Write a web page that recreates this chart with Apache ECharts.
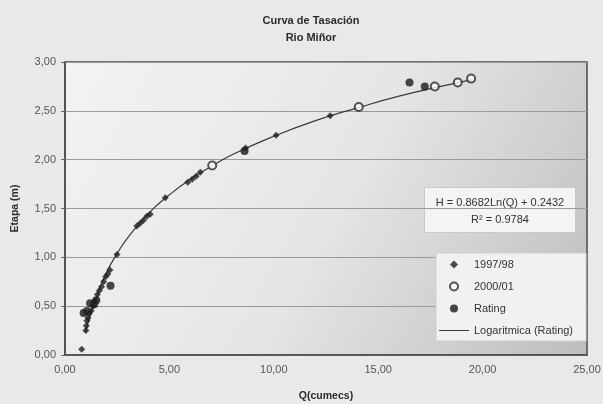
<!DOCTYPE html>
<html>
<head>
<meta charset="utf-8">
<script src="https://cdn.jsdelivr.net/npm/echarts@6/dist/echarts.min.js"></script>
<style>
html,body{margin:0;padding:0;background:#e9e9e7;}
#c{width:603px;height:404px;}
</style>
</head>
<body>
<div id="c"></div>
<script>
// ---- data ----
var series9798 = [[0.80,0.06],[1.00,0.25],[1.02,0.30],[1.05,0.35],[1.10,0.38],[1.15,0.42],[1.25,0.45],[1.35,0.50],[1.45,0.56],[1.55,0.62],[1.65,0.66],[1.75,0.70],[1.85,0.75],[1.95,0.80],[2.05,0.83],[2.15,0.87],[2.49,1.03],[3.44,1.32],[3.60,1.35],[3.76,1.38],[3.92,1.42],[4.08,1.44],[4.80,1.61],[5.88,1.77],[6.09,1.80],[6.28,1.83],[6.48,1.87],[8.65,2.12],[10.11,2.25],[12.70,2.45]];
var series0001 = [[7.05,1.94],[14.07,2.54],[17.71,2.75],[18.81,2.79],[19.45,2.83]];
var seriesRating = [[0.89,0.43],[1.05,0.45],[1.20,0.53],[1.40,0.52],[1.50,0.56],[2.18,0.71],[8.60,2.09],[16.50,2.79],[17.23,2.75]];
var trendLine = [[0.98,0.23],[1.2,0.40],[1.5,0.59],[2.0,0.85],[2.5,1.04],[3.0,1.20],[4.0,1.45],[5.0,1.64],[6.0,1.80],[7.0,1.93],[8.0,2.05],[10.0,2.24],[12.0,2.40],[14.0,2.53],[16.0,2.65],[18.0,2.75],[19.5,2.82]];
var xTickLabels = ['0,00','5,00','10,00','15,00','20,00','25,00'];
var yTickLabels = ['0,00','0,50','1,00','1,50','2,00','2,50','3,00'];
var seriesNames = ['1997/98','2000/01','Rating','Logaritmica (Rating)'];
var titleText = 'Curva de Tasación\nRio Miñor';
var eqLines = ['H = 0.8682Ln(Q) + 0.2432', 'R\u00B2 = 0.9784'];

var chart = echarts.init(document.getElementById('c'), null, {renderer:'canvas'});
var FONT = 'Liberation Sans, Arial, sans-serif';
var option = {
  backgroundColor: '#e9e9e7',
  animation: false,
  title: {
    text: titleText,
    left: 306, top: 7, textAlign: 'center',
    textStyle: {fontFamily: FONT, fontSize: 11, fontWeight: 'bold', color: '#2a2a2a', lineHeight: 17}
  },
  grid: {
    left: 65, right: 16, top: 62, bottom: 49,
    containLabel: false,
    outerBoundsMode: 'none',
    show: true,
    borderColor: '#4a4a4a', borderWidth: 1.5,
    backgroundColor: {type:'linear', x:0, y:0, x2:1, y2:1, colorStops:[
      {offset:0, color:'#f3f3f1'}, {offset:0.5, color:'#e6e6e5'}, {offset:1, color:'#bdbdbc'}]}
  },
  legend: {
    orient: 'vertical', left: 436, top: 253,
    backgroundColor: '#f1f1f0', borderColor: '#cfcfcf', borderWidth: 1,
    padding: [6, 13, 5, 3],
    itemWidth: 30, itemHeight: 8, itemGap: 11,
    textStyle: {fontFamily: FONT, fontSize: 11, color: '#333'},
    data: [
      {name: seriesNames[0], icon: 'path://M4,0 L8,4 L4,8 L0,4 Z'},
      {name: seriesNames[1], icon: 'emptyCircle'},
      {name: seriesNames[2], icon: 'circle'},
      {name: seriesNames[3], icon: 'path://M0,0 L30,0 L30,1 L0,1 Z'}
    ]
  },
  xAxis: {
    type: 'value', min: 0, max: 25, interval: 5,
    name: 'Q(cumecs)', nameLocation: 'middle', nameGap: 36,
    nameTextStyle: {fontFamily: FONT, fontSize: 10.5, fontWeight: 'bold', color: '#2a2a2a'},
    axisLine: {show: true, lineStyle: {color: '#4a4a4a', width: 1.5}},
    axisTick: {show: false},
    splitLine: {show: false},
    axisLabel: {fontFamily: FONT, fontSize: 11, color: '#555', margin: 9,
      formatter: function(v){ return xTickLabels[Math.round(v/5)]; }}
  },
  yAxis: {
    type: 'value', min: 0, max: 3, interval: 0.5,
    name: 'Etapa (m)', nameLocation: 'middle', nameGap: 44, nameRotate: 90,
    nameTextStyle: {fontFamily: FONT, fontSize: 10.5, fontWeight: 'bold', color: '#2a2a2a'},
    axisLine: {show: true, lineStyle: {color: '#4a4a4a', width: 1.5}},
    axisTick: {show: true, length: 4, lineStyle: {color: '#666'}},
    splitLine: {show: true, lineStyle: {color: '#9a9a9a', width: 1}},
    axisLabel: {fontFamily: FONT, fontSize: 11, color: '#555', margin: 9,
      formatter: function(v){ return yTickLabels[Math.round(v/0.5)]; }}
  },
  graphic: [{
    type: 'group', left: 424, top: 187,
    children: [
      {type:'rect', shape:{x:0,y:0,width:151,height:45}, style:{fill:'#f4f4f3', stroke:'#c9c9c9', lineWidth:1}},
      {type:'text', x:75.5, y:15, style:{text: eqLines[0], align:'center', verticalAlign:'middle', font:'11px '+FONT, fill:'#333'}},
      {type:'text', x:75.5, y:32, style:{text: eqLines[1], align:'center', verticalAlign:'middle', font:'11px '+FONT, fill:'#333'}}
    ]
  }],
  series: [
    {name: seriesNames[3], type:'line', data: trendLine, smooth: true, symbol:'none', z: 1,
     lineStyle:{color:'#3a3a3a', width:1.2}, itemStyle:{color:'#3a3a3a'}},
    {name: seriesNames[0], type:'scatter', data: series9798, symbol:'diamond', symbolSize: 7, z: 3,
     itemStyle:{color:'#1e1e1e'}},
    {name: seriesNames[1], type:'scatter', data: series0001, symbol:'emptyCircle', symbolSize: 8, z: 3,
     itemStyle:{color:'#2a2a2a', borderColor:'#2a2a2a', borderWidth:1.2}},
    {name: seriesNames[2], type:'scatter', data: seriesRating, symbol:'circle', symbolSize: 8, z: 2,
     itemStyle:{color:'#1a1a1a'}}
  ]
};
chart.setOption(option);
</script>
</body>
</html>
